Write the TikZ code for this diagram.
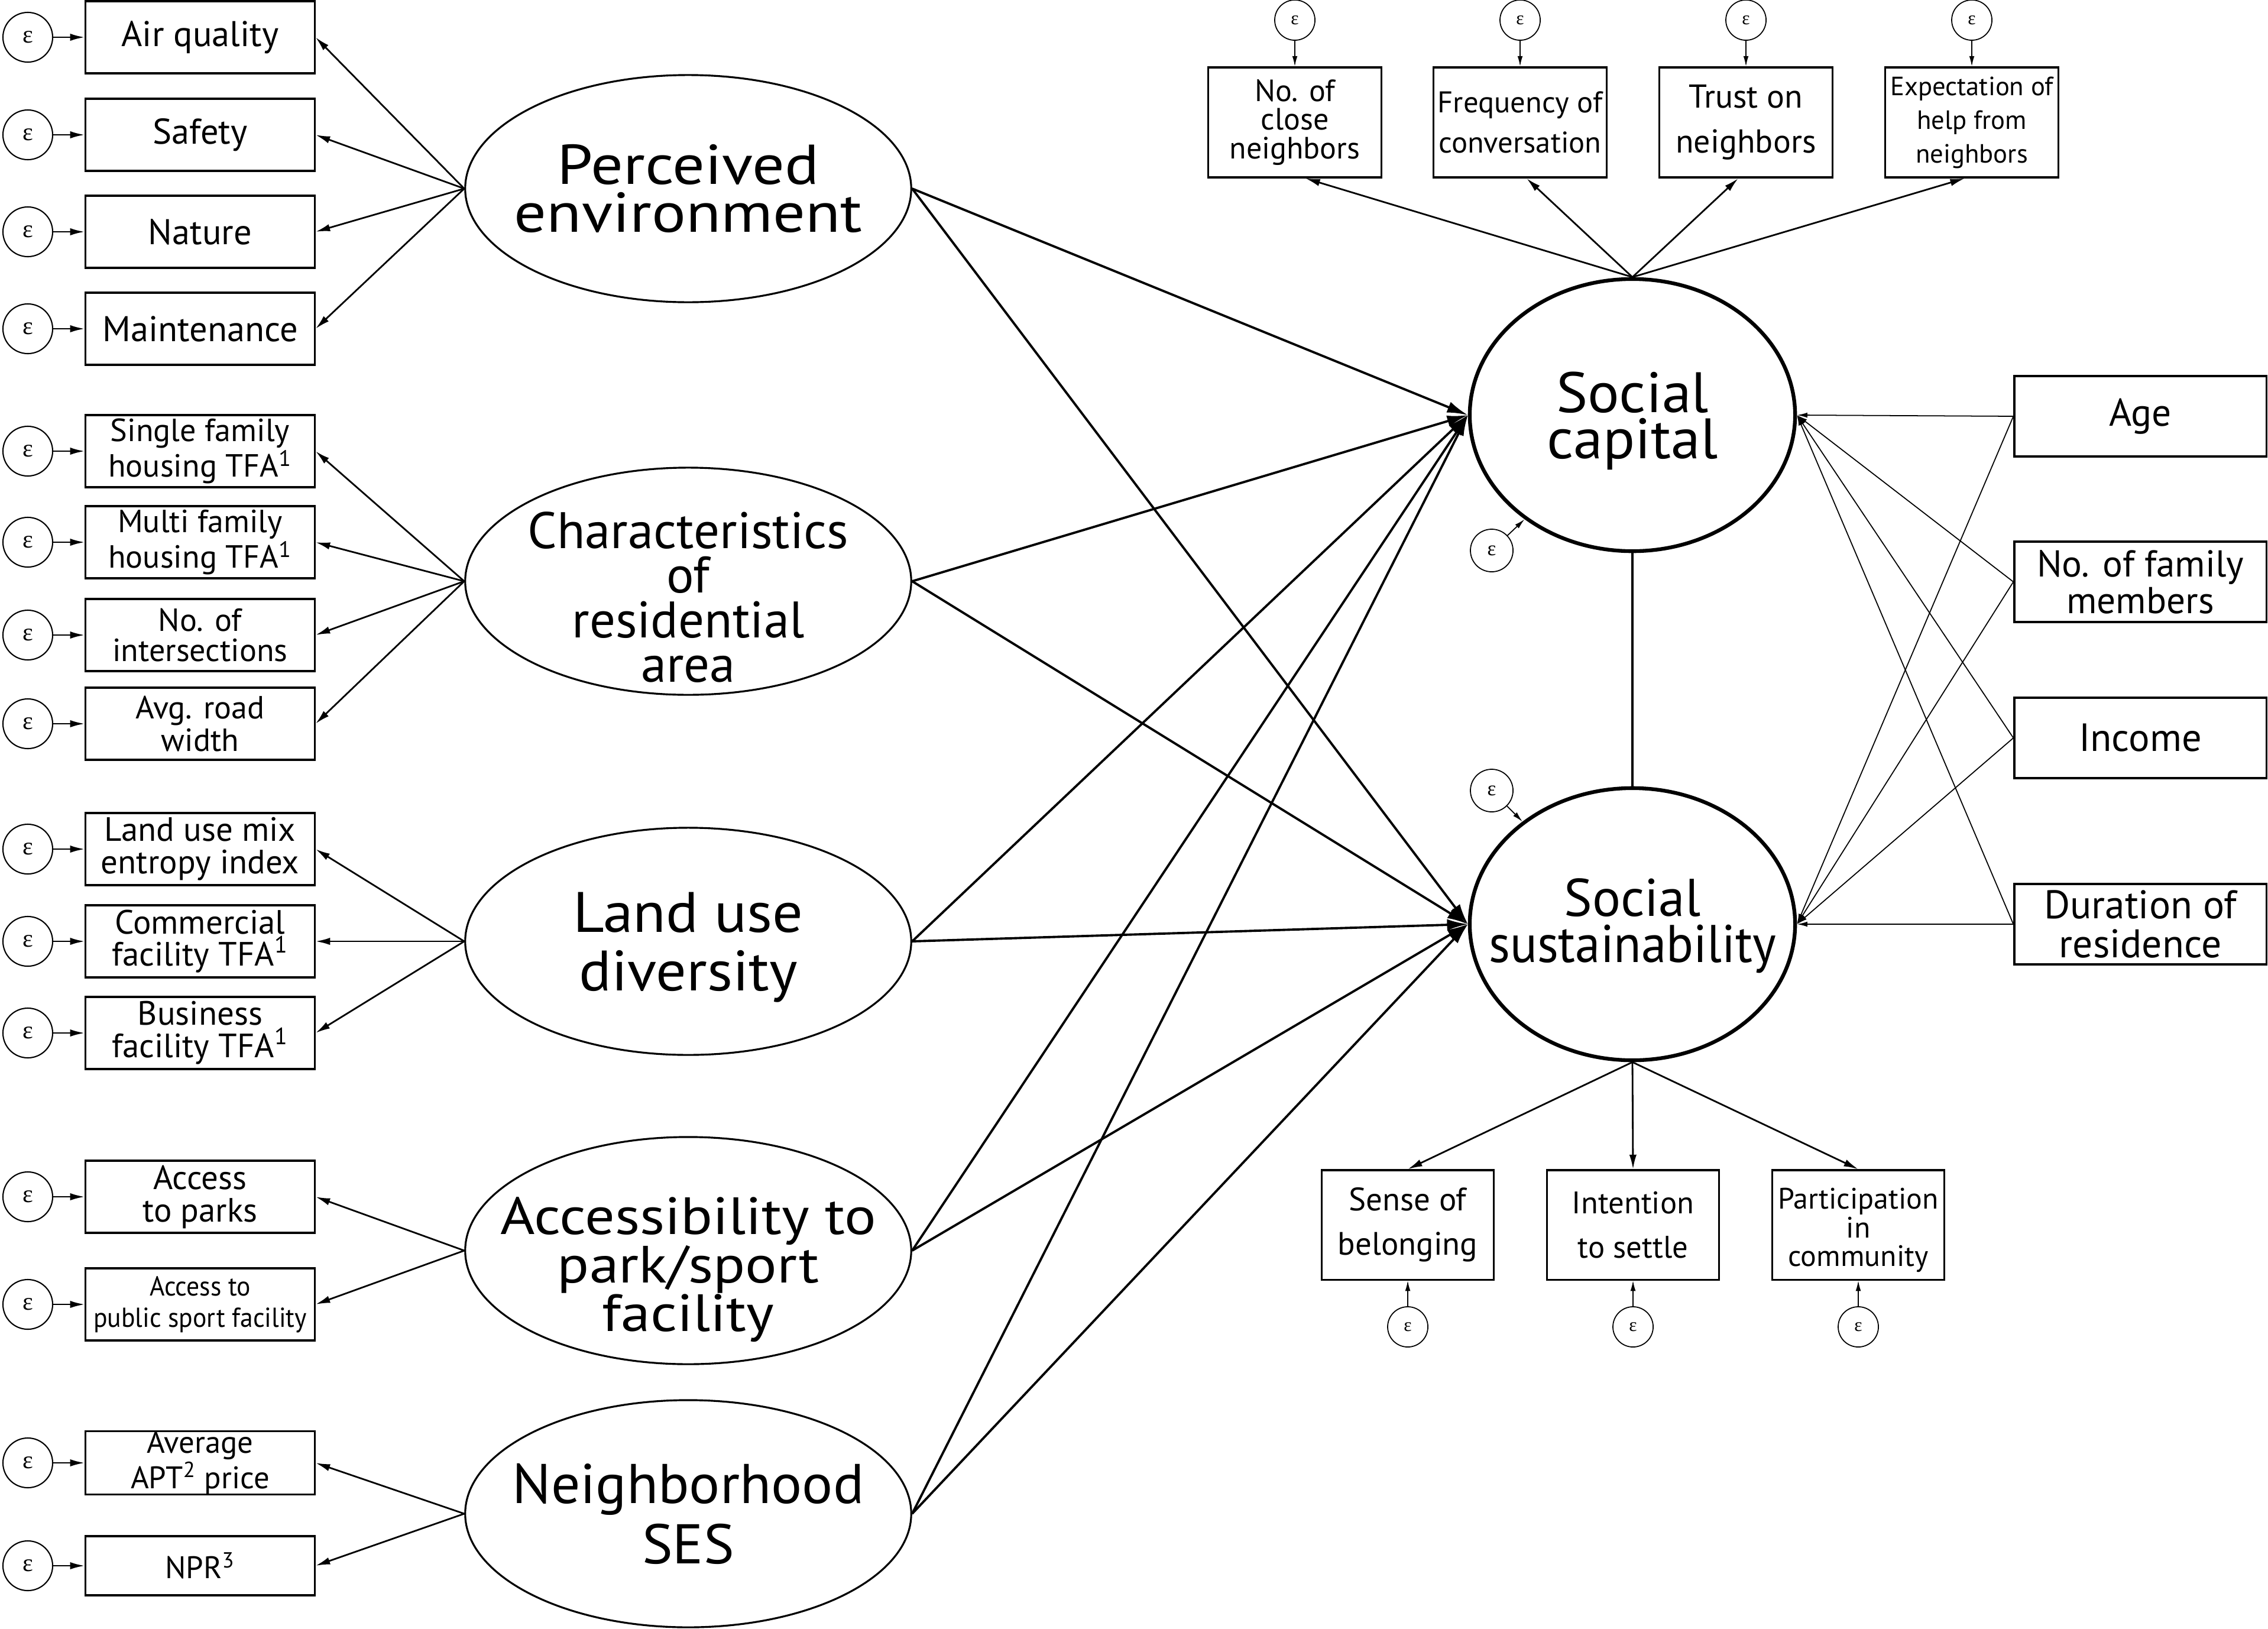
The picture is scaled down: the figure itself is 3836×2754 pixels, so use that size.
\documentclass[tikz,border=0pt]{standalone}
\usepackage{fontspec}
\setmainfont{PT Sans}
\newfontfamily\epsfont{Liberation Serif}
\usetikzlibrary{shapes.geometric,arrows.meta,calc}
\newcommand\fsz[2]{\fontsize{#1}{#2}\selectfont}
\newcommand\hs[2]{\scalebox{#1}[1]{#2}}
\begin{document}
\begin{tikzpicture}[x=0.01cm,y=-0.01cm,
  obs/.style={draw, line width=0.9pt, rectangle, inner sep=0pt, align=center},
  lbox/.style={obs, minimum width=3.87cm, minimum height=1.22cm},
  tbox/.style={obs, minimum width=2.93cm, minimum height=1.86cm},
  rbox/.style={obs, minimum width=4.26cm, minimum height=1.36cm},
  bbox/.style={obs, minimum width=2.91cm, minimum height=1.85cm},
  lat/.style={draw, ellipse, line width=0.9pt, inner sep=0pt, minimum width=7.54cm, minimum height=3.84cm},
  latbig/.style={draw, ellipse, line width=1.8pt, inner sep=0pt, minimum width=5.5cm, minimum height=4.6cm},
  lattext/.style={align=center, inner sep=0pt},
  err/.style={draw, circle, line width=0.6pt, inner sep=0pt, minimum size=0.84cm, font=\epsfont\fsz{12}{12}},
  errs/.style={draw, circle, line width=0.5pt, inner sep=0pt, minimum size=0.68cm, font=\epsfont\fsz{9}{9}},
  errarr/.style={line width=0.8pt, -{Latex[length=7pt,width=3.5pt]}},
  errsarr/.style={line width=0.5pt, -{Latex[length=5pt,width=2.5pt]}},
  ind/.style={line width=0.8pt, -{Latex[length=7pt,width=3.5pt]}},
  struct/.style={line width=1.1pt, -{Latex[length=10pt,width=5.5pt]}},
  cov/.style={line width=0.5pt, -{Latex[length=5pt,width=2.5pt]}}
]
\useasboundingbox (0,0) rectangle (3836,2754);

% ---------- left observed boxes ----------
\node[lbox, font=\fsz{17.2}{17}] (aq) at (338.5,63) {Air quality};
\node[lbox, font=\fsz{17.2}{17}] (sa) at (338.5,228) {Safety};
\node[lbox, font=\fsz{17.2}{17}] (na) at (338.5,392) {Nature};
\node[lbox, font=\fsz{17.2}{17}] (ma) at (338.5,556) {Maintenance};

\node[lbox, font=\fsz{15.4}{14.4}] (sf) at (338.5,763) {Single family\\housing TFA\textsuperscript{1}};
\node[lbox, font=\fsz{15.4}{14.4}] (mf) at (338.5,917) {Multi family\\housing TFA\textsuperscript{1}};
\node[lbox, font=\fsz{15.4}{14.4}] (ni) at (338.5,1074) {No. of\\intersections};
\node[lbox, font=\fsz{15.4}{15.8}] (ar) at (338.5,1224) {Avg. road\\width};

\node[lbox, font=\fsz{16.2}{15.6}] (lm) at (338.5,1436) {Land use mix\\entropy index};
\node[lbox, font=\fsz{16.2}{15.6}] (cf) at (338.5,1592) {Commercial\\facility TFA\textsuperscript{1}};
\node[lbox, font=\fsz{16.2}{15.6}] (bf) at (338.5,1747) {Business\\facility TFA\textsuperscript{1}};

\node[lbox, font=\fsz{16.2}{15.6}] (ap) at (338.5,2024) {Access\\to parks};
\node[lbox, font=\fsz{13.2}{15}] (ps) at (338.5,2206) {\hs{0.94}{Access to}\\\hs{0.94}{public sport facility}};

\node[lbox, minimum height=1.0cm, font=\fsz{15}{13.6}] (apt) at (338.5,2474) {Average\\APT\textsuperscript{2} price};
\node[lbox, minimum height=1.0cm, font=\fsz{15}{13.6}] (npr) at (338.5,2648) {NPR\textsuperscript{3}};

% ---------- left error terms ----------
\foreach \n/\y in {aq/63,sa/228,na/392,ma/556,sf/763,mf/917,ni/1074,ar/1224,lm/1436,cf/1592,bf/1747,ap/2024,ps/2206,apt/2474,npr/2648}{
  \node[err] (e\n) at (47,\y) {ε};
  \draw[errarr] (e\n) -- (\n);
}

% ---------- left latent variables ----------
\node[lat] (pe) at (1164,319) {};
\node[lattext, font=\fsz{27}{23}] at (pe.center) {\hs{1.14}{Perceived}\\\hs{1.14}{environment}};
\node[lat] (cr) at (1164,983) {};
\node[lattext, font=\fsz{24.7}{21.4}] at ([yshift=-0.27cm]cr.center) {Characteristics\\of\\residential\\area};
\node[lat] (lu) at (1164,1592) {};
\node[lattext, font=\fsz{27.4}{28}] at ([yshift=-0.1cm]lu.center) {\hs{1.06}{Land use}\\\hs{1.06}{diversity}};
\node[lat] (ac) at (1164,2115) {};
\node[lattext, font=\fsz{25.2}{23.3}] at ([yshift=-0.32cm]ac.center) {\hs{1.13}{Accessibility to}\\\hs{1.13}{park/sport}\\\hs{1.13}{facility}};
\node[lat] (se) at (1164,2560) {};
\node[lattext, font=\fsz{26.9}{29}] at (se.center) {\hs{1.03}{Neighborhood}\\\hs{1.03}{SES}};

% indicators of left latent variables
\foreach \a/\b in {pe/aq,pe/sa,pe/na,pe/ma,cr/sf,cr/mf,cr/ni,cr/ar,lu/lm,lu/cf,lu/bf,ac/ap,ac/ps,se/apt,se/npr}{
  \draw[ind] (\a.west) -- (\b.east);
}

% ---------- social capital / sustainability ----------
\node[latbig] (sc) at (2761,702) {};
\node[lattext, font=\fsz{27.4}{22.2}] at ([yshift=-0.1cm]sc.center) {\hs{1.04}{Social}\\\hs{1.04}{capital}};
\node[latbig] (ss) at (2761,1563) {};
\node[lattext, font=\fsz{25.5}{22.2}] at ([yshift=-0.03cm]ss.center) {Social\\\hs{0.95}{sustainability}};

\draw[line width=0.9pt] (sc.south) -- (ss.north);

\node[errs, minimum size=0.72cm, font=\epsfont\fsz{10}{10}] (esc) at (2523,931) {ε};
\node[errs, minimum size=0.72cm, font=\epsfont\fsz{10}{10}] (ess) at (2523,1337) {ε};
\draw[errsarr] (esc) -- (sc.224);
\draw[errsarr] (ess) -- (ss.137);

% structural paths
\foreach \a in {pe,cr,lu,ac,se}{
  \draw[struct] (\a.east) -- (sc.west);
  \draw[struct] (\a.east) -- (ss.west);
}

% ---------- top indicators ----------
\node[tbox, font=\fsz{14.8}{13.9}] (t1) at (2190,207) {No. of\\close\\neighbors};
\node[tbox, font=\fsz{14.4}{19.4}] (t2) at (2571,207) {Frequency of\\conversation};
\node[tbox, font=\fsz{15.9}{21.6}] (t3) at (2953,207) {Trust on\\neighbors};
\node[tbox, font=\fsz{12.7}{16.2}] (t4) at (3335,207) {Expectation of\\help from\\neighbors};
\foreach \t/\x/\dx in {t1/2190/18,t2/2571/11,t3/2953/-13,t4/3335/-12}{
  \node[errs] (e\t) at (\x,34) {ε};
  \draw[errsarr] (e\t) -- (\t);
  \draw[ind] (sc.north) -- ($(\t.south)+(\dx,0)$);
}

% ---------- right covariates ----------
\node[rbox, font=\fsz{18.6}{18}] (age) at (3620,704) {Age};
\node[rbox, font=\fsz{18}{17.6}] (fam) at (3620,984) {No. of family\\members};
\node[rbox, font=\fsz{18.9}{18}] (inc) at (3620,1248) {Income};
\node[rbox, font=\fsz{19.2}{18.5}] (dur) at (3620,1563) {Duration of\\residence};
\foreach \r in {age,fam,inc,dur}{
  \draw[cov] (\r.west) -- (sc.east);
  \draw[cov] (\r.west) -- (ss.east);
}

% ---------- bottom indicators ----------
\node[bbox, font=\fsz{15.6}{21.3}] (b1) at (2381,2071.5) {Sense of\\belonging};
\node[bbox, font=\fsz{15}{21.3}] (b2) at (2762,2071.5) {Intention\\to settle};
\node[bbox] (b3) at (3143,2071.5) {};
\node[lattext, font=\fsz{14.2}{13.9}] at ([yshift=-0.09cm]b3.center) {Participation\\in\\community};
\foreach \b/\x in {b1/2381,b2/2762,b3/3143}{
  \node[errs] (e\b) at (\x,2244) {ε};
  \draw[errsarr] (e\b) -- (\b);
  \draw[ind] (ss.south) -- (\b.north);
}
\end{tikzpicture}
\end{document}
